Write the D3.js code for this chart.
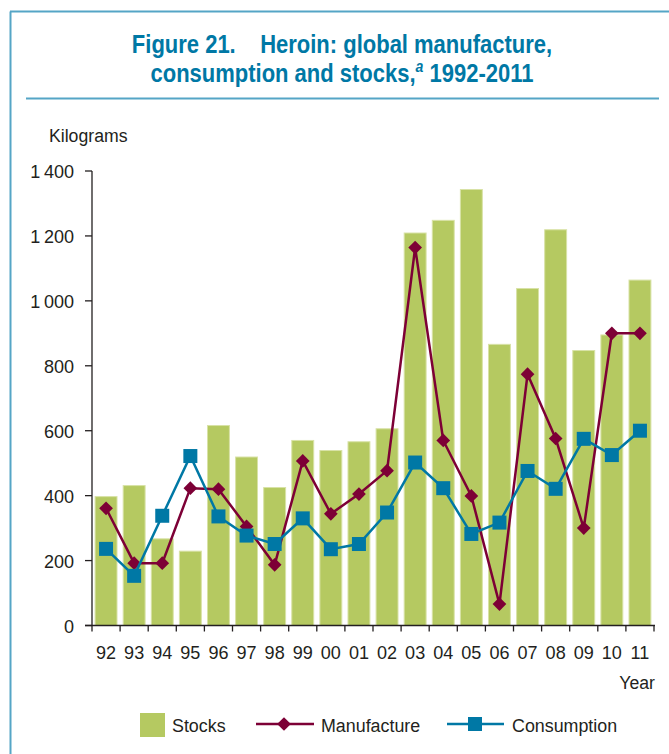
<!DOCTYPE html>
<html>
<head>
<meta charset="utf-8">
<script src="https://cdn.jsdelivr.net/npm/d3@7"></script>
<style>
  body { margin: 0; background: #fff; }
  svg text { font-family: "Liberation Sans", Arial, sans-serif; fill: #231f20; }
</style>
</head>
<body>
<div id="viz"></div>
<script>
let years = ["92","93","94","95","96","97","98","99","00","01","02","03","04","05","06","07","08","09","10","11"]
let stocks = [397,431,267,229,616,519,425,570,539,566,606,1209,1248,1343,866,1038,1219,847,895,1064]
let manufacture = [361,192,192,423,420,305,187,507,344,405,477,1164,570,399,66,774,576,300,900,900]
let consumption = [236,153,338,522,336,277,251,330,235,251,348,502,423,282,317,476,421,575,525,600]
let yTicks = [0,200,400,600,800,1000,1200,1400]

let w = 669;
let h = 754;
let frameColor = "#55a5c6";
let titleColor = "#0078a5";
let barColor = "#b5c961";
let manuColor = "#7d0036";
let consColor = "#0078a5";

const svg = d3.select("#viz")
  .append("svg")
  .attr("width", w)
  .attr("height", h);

// narrow text: the original uses a condensed face
let addText = function (parent, x, y, str, size, sx, anchor) {
  return parent.append("text")
    .attr("transform", `translate(${x},${y}) scale(${sx},1)`)
    .attr("text-anchor", anchor || "start")
    .style("font-size", size + "px")
    .text(str)
}

// frame
svg.append("line")
  .attr("x1", 10.5).attr("y1", 11.5).attr("x2", 10.5).attr("y2", h)
  .attr("stroke", frameColor).attr("stroke-width", 2)
svg.append("line")
  .attr("x1", 10).attr("y1", 11.5).attr("x2", w).attr("y2", 11.5)
  .attr("stroke", frameColor).attr("stroke-width", 2)
svg.append("line")
  .attr("x1", 26).attr("y1", 98.5).attr("x2", 659).attr("y2", 98.5)
  .attr("stroke", frameColor).attr("stroke-width", 2)

// title
let t1 = addText(svg, 342, 53, "", 26.5, 0.83, "middle")
  .style("font-weight", "bold").style("fill", titleColor)
t1.attr("xml:space", "preserve").text("Figure 21.\u00a0\u00a0\u00a0 Heroin: global manufacture,")
let t2 = addText(svg, 342, 82, "", 26.5, 0.83, "middle")
  .style("font-weight", "bold").style("fill", titleColor)
t2.append("tspan").text("consumption and stocks,")
t2.append("tspan").text("a").style("font-style", "italic").style("font-size", "17px").attr("dy", -10)
t2.append("tspan").text(" 1992-2011").attr("dy", 10)

const xScale = d3.scaleBand()
  .domain(years)
  .range([92, 654])
  .paddingInner(0.22)
  .paddingOuter(0.11);

const yScale = d3.scaleLinear()
  .domain([0, 1400])
  .range([625.5, 171]);

// bars
svg.append("g").selectAll("rect")
  .data(stocks)
  .enter()
  .append("rect")
  .attr("x", (d, i) => xScale(years[i]))
  .attr("y", d => yScale(d))
  .attr("width", xScale.bandwidth())
  .attr("height", d => yScale(0) - yScale(d))
  .attr("fill", barColor)
  .attr("stroke", "#d8e2a6")
  .attr("stroke-width", 1)

// axes
let axisGroup = svg.append("g")
axisGroup.append("line")
  .attr("x1", 92).attr("y1", yScale(0)).attr("x2", 92).attr("y2", yScale(1400))
  .attr("stroke", "#231f20").attr("stroke-width", 1.3)
axisGroup.append("line")
  .attr("x1", 85).attr("y1", yScale(0)).attr("x2", 655).attr("y2", yScale(0))
  .attr("stroke", "#231f20").attr("stroke-width", 1.3)

yTicks.forEach(t => {
  axisGroup.append("line")
    .attr("x1", 85).attr("y1", yScale(t)).attr("x2", 92).attr("y2", yScale(t))
    .attr("stroke", "#231f20").attr("stroke-width", 1.3)
  addText(axisGroup, 74, yScale(t) + 7, d3.format(",")(t).replace(/,/g, "\u2009"), 19, 0.95, "end")
})

for (let i = 0; i <= years.length; i++) {
  let xx = 92 + i * (562 / years.length)
  axisGroup.append("line")
    .attr("x1", xx).attr("y1", yScale(0)).attr("x2", xx).attr("y2", yScale(0) + 6)
    .attr("stroke", "#231f20").attr("stroke-width", 1.3)
}

years.forEach(y => {
  addText(axisGroup, xScale(y) + xScale.bandwidth() / 2, 659, y, 19, 0.95, "middle")
})

addText(svg, 49, 142, "Kilograms", 19, 0.93)
addText(svg, 655, 689, "Year", 19, 0.93, "end")

// lines
let cx = i => xScale(years[i]) + xScale.bandwidth() / 2
let lineGen = d3.line().x((d, i) => cx(i)).y(d => yScale(d))

svg.append("path")
  .datum(manufacture)
  .attr("d", lineGen)
  .attr("fill", "none")
  .attr("stroke", manuColor)
  .attr("stroke-width", 2.5)
svg.append("g").selectAll("path")
  .data(manufacture)
  .enter()
  .append("path")
  .attr("d", d3.symbol(d3.symbolDiamond2, 120)())
  .attr("transform", (d, i) => `translate(${cx(i)},${yScale(d)})`)
  .attr("fill", manuColor)

svg.append("path")
  .datum(consumption)
  .attr("d", lineGen)
  .attr("fill", "none")
  .attr("stroke", consColor)
  .attr("stroke-width", 2.5)
svg.append("g").selectAll("rect")
  .data(consumption)
  .enter()
  .append("rect")
  .attr("x", (d, i) => cx(i) - 7)
  .attr("y", d => yScale(d) - 7)
  .attr("width", 14)
  .attr("height", 14)
  .attr("fill", consColor)

// legend
let legend = svg.append("g")
legend.append("rect").attr("x", 140).attr("y", 713).attr("width", 25).attr("height", 24).attr("fill", barColor)
addText(legend, 172, 732, "Stocks", 19, 0.94)
legend.append("line").attr("x1", 256).attr("y1", 724).attr("x2", 314).attr("y2", 724)
  .attr("stroke", manuColor).attr("stroke-width", 2.5)
legend.append("path").attr("d", d3.symbol(d3.symbolDiamond2, 120)())
  .attr("transform", "translate(284,724)").attr("fill", manuColor)
addText(legend, 321, 732, "Manufacture", 19, 0.94)
legend.append("line").attr("x1", 447).attr("y1", 724).attr("x2", 504).attr("y2", 724)
  .attr("stroke", consColor).attr("stroke-width", 2.5)
legend.append("rect").attr("x", 468).attr("y", 717).attr("width", 14).attr("height", 14).attr("fill", consColor)
addText(legend, 512, 732, "Consumption", 19, 0.94)
</script>
</body>
</html>
